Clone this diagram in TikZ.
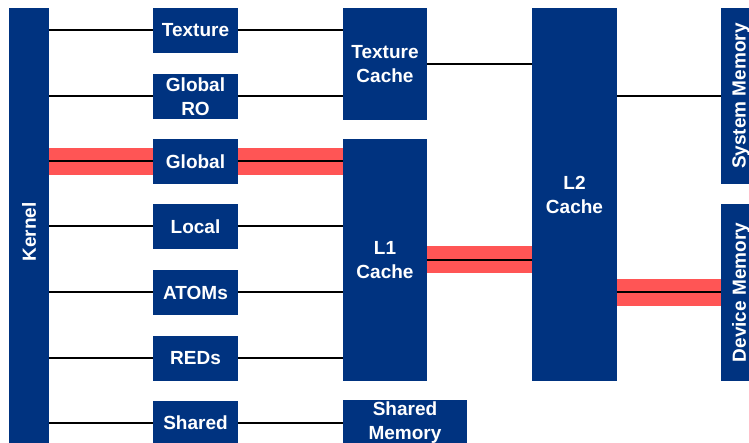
\documentclass[tikz,border=0pt]{standalone}
\usepackage{fontspec}
\setmainfont{Liberation Sans}
\usetikzlibrary{backgrounds}
\definecolor{nvblue}{RGB}{0,51,128}
\definecolor{bandred}{RGB}{255,85,85}
\begin{document}
\begin{tikzpicture}[x=1pt,y=-1pt,
  blk/.style={fill=nvblue, draw=none, inner sep=0pt, outer sep=0pt, text=white,
    font=\bfseries\fontsize{19}{24}\selectfont, align=center},
  lbl/.style={text=white, inner sep=0pt, font=\bfseries\fontsize{19}{24}\selectfont},
  wire/.style={black, line width=2pt},
  band/.style={bandred, line width=27pt}]
\clip (0,0) rectangle (749,443);
% boxes
\node[blk, minimum width=40pt, minimum height=448pt] (kernel) at (29,232) {};
\node[lbl, rotate=90] (kernellbl) at (kernel.center) {Kernel};
\node[blk, minimum width=85pt, minimum height=45pt] (tex) at (195.5,30.5) {Texture};
\node[blk, minimum width=85pt, minimum height=45pt] (gro) at (195.5,96.5) {Global\\RO};
\node[blk, minimum width=85pt, minimum height=45pt] (glob) at (195.5,161.5) {Global};
\node[blk, minimum width=85pt, minimum height=45pt] (loc) at (195.5,226.5) {Local};
\node[blk, minimum width=85pt, minimum height=45pt] (atom) at (195.5,292.5) {ATOMs};
\node[blk, minimum width=85pt, minimum height=45pt] (red) at (195.5,358) {REDs};
\node[blk, minimum width=85pt, minimum height=45pt] (shar) at (195.5,423) {Shared};
\node[blk, minimum width=84pt, minimum height=112pt] (texc) at (385,64) {Texture\\Cache};
\node[blk, minimum width=84pt, minimum height=242pt] (lone) at (385,260) {L1\\Cache};
\node[blk, minimum width=124pt, minimum height=46pt] (shm) at (405,423) {Shared\\Memory};
\node[blk, minimum width=85pt, minimum height=373pt] (ltwo) at (574.5,194.5) {L2\\Cache};
\node[blk, minimum width=40pt, minimum height=176pt] (sys) at (741,96) {};
\node[lbl, rotate=90] (syslbl) at (sys.center) {System Memory};
\node[blk, minimum width=40pt, minimum height=177pt] (dev) at (741,292.5) {};
\node[lbl, rotate=90] (devlbl) at (dev.center) {Device Memory};
% connectors
\begin{pgfonlayer}{background}
\draw[band] (kernel.east |- glob.west) -- (glob.west -| lone.west);
\draw[band] (lone.east) -- (lone.east -| ltwo.west);
\draw[band] (ltwo.east |- dev.west) -- (dev.west);
\draw[wire] (kernel.east |- tex.west) -- (tex.west);
\draw[wire] (kernel.east |- gro.west) -- (gro.west);
\draw[wire] (kernel.east |- glob.west) -- (glob.west);
\draw[wire] (kernel.east |- loc.west) -- (loc.west);
\draw[wire] (kernel.east |- atom.west) -- (atom.west);
\draw[wire] (kernel.east |- red.west) -- (red.west);
\draw[wire] (kernel.east |- shar.west) -- (shar.west);
\draw[wire] (tex.east) -- (tex.east -| texc.west);
\draw[wire] (gro.east) -- (gro.east -| texc.west);
\draw[wire] (glob.east) -- (glob.east -| lone.west);
\draw[wire] (loc.east) -- (loc.east -| lone.west);
\draw[wire] (atom.east) -- (atom.east -| lone.west);
\draw[wire] (red.east) -- (red.east -| lone.west);
\draw[wire] (shar.east) -- (shar.east -| shm.west);
\draw[wire] (texc.east) -- (texc.east -| ltwo.west);
\draw[wire] (lone.east) -- (lone.east -| ltwo.west);
\draw[wire] (ltwo.east |- sys.west) -- (sys.west);
\draw[wire] (ltwo.east |- dev.west) -- (dev.west);
\end{pgfonlayer}
\end{tikzpicture}
\end{document}
